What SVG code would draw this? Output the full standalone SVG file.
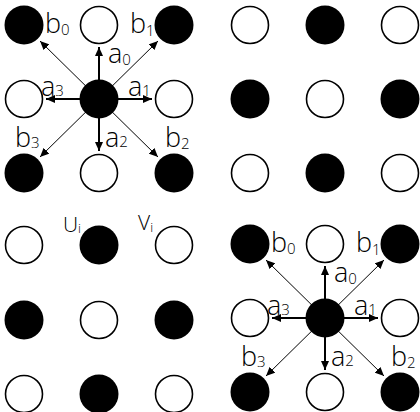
<svg xmlns="http://www.w3.org/2000/svg" width="420" height="412" viewBox="0 0 420 412">
<style>
  .w{fill:#fff;stroke:#000;stroke-width:1.6}
  .k{fill:#000}
  .ax{stroke:#000;stroke-width:2;fill:none}
  .dg{stroke:#000;stroke-width:1;fill:none}
  .lb{font-family:"Open Sans","DejaVu Sans",sans-serif;font-weight:300;font-size:27px;fill:#000}
  .sb{font-size:15px}
  .uv{font-family:"Open Sans","DejaVu Sans",sans-serif;font-weight:300;font-size:21px;fill:#000}
  .si{font-size:13px}
</style>
<defs>
  <marker id="ah" markerUnits="userSpaceOnUse" markerWidth="10" markerHeight="8" refX="9" refY="4" orient="auto">
    <path d="M0,0 L9,4 L0,8 z" fill="#000"/>
  </marker>
</defs>
<rect width="420" height="412" fill="#fff"/>

<g id="connectors">
  <g id="tl-arrows">
    <line class="ax" x1="99" y1="99" x2="99" y2="47" marker-end="url(#ah)"/>
    <line class="ax" x1="99" y1="99" x2="152" y2="99" marker-end="url(#ah)"/>
    <line class="ax" x1="99" y1="99" x2="99" y2="151" marker-end="url(#ah)"/>
    <line class="ax" x1="99" y1="99" x2="46" y2="99" marker-end="url(#ah)"/>
    <line class="dg" x1="99" y1="99" x2="40" y2="41" marker-end="url(#ah)"/>
    <line class="dg" x1="99" y1="99" x2="158" y2="41" marker-end="url(#ah)"/>
    <line class="dg" x1="99" y1="99" x2="158" y2="157" marker-end="url(#ah)"/>
    <line class="dg" x1="99" y1="99" x2="40" y2="157" marker-end="url(#ah)"/>
  </g>
  <g id="br-arrows">
    <line class="ax" x1="325" y1="318" x2="325" y2="266" marker-end="url(#ah)"/>
    <line class="ax" x1="325" y1="318" x2="378" y2="318" marker-end="url(#ah)"/>
    <line class="ax" x1="325" y1="318" x2="325" y2="370" marker-end="url(#ah)"/>
    <line class="ax" x1="325" y1="318" x2="272" y2="318" marker-end="url(#ah)"/>
    <line class="dg" x1="325" y1="318" x2="266" y2="260" marker-end="url(#ah)"/>
    <line class="dg" x1="325" y1="318" x2="384" y2="260" marker-end="url(#ah)"/>
    <line class="dg" x1="325" y1="318" x2="384" y2="376" marker-end="url(#ah)"/>
    <line class="dg" x1="325" y1="318" x2="266" y2="376" marker-end="url(#ah)"/>
  </g>
</g>

<!-- Top-left quadrant -->
<g id="tl-n00"><circle class="k" cx="24" cy="25" r="19.5"/></g>
<g id="tl-n01"><circle class="w" cx="99" cy="25" r="18.5"/></g>
<g id="tl-n02"><circle class="k" cx="174" cy="25" r="19.5"/></g>
<g id="tl-n10"><circle class="w" cx="24" cy="99" r="18.5"/></g>
<g id="tl-n11"><circle class="k" cx="99" cy="99" r="19.5"/></g>
<g id="tl-n12"><circle class="w" cx="174" cy="99" r="18.5"/></g>
<g id="tl-n20"><circle class="k" cx="24" cy="173" r="19.5"/></g>
<g id="tl-n21"><circle class="w" cx="99" cy="173" r="18.5"/></g>
<g id="tl-n22"><circle class="k" cx="174" cy="173" r="19.5"/></g>

<!-- Top-right quadrant -->
<g id="tr-n00"><circle class="w" cx="250" cy="25" r="18.5"/></g>
<g id="tr-n01"><circle class="k" cx="325" cy="25" r="19.5"/></g>
<g id="tr-n02"><circle class="w" cx="400" cy="25" r="18.5"/></g>
<g id="tr-n10"><circle class="k" cx="250" cy="99" r="19.5"/></g>
<g id="tr-n11"><circle class="w" cx="325" cy="99" r="18.5"/></g>
<g id="tr-n12"><circle class="k" cx="400" cy="99" r="19.5"/></g>
<g id="tr-n20"><circle class="w" cx="250" cy="173" r="18.5"/></g>
<g id="tr-n21"><circle class="k" cx="325" cy="173" r="19.5"/></g>
<g id="tr-n22"><circle class="w" cx="400" cy="173" r="18.5"/></g>

<!-- Bottom-left quadrant -->
<g id="bl-n00"><circle class="w" cx="24" cy="245" r="18.5"/></g>
<g id="bl-n01"><circle class="k" cx="99" cy="245" r="19.5"/></g>
<g id="bl-n02"><circle class="w" cx="174" cy="245" r="18.5"/></g>
<g id="bl-n10"><circle class="k" cx="24" cy="320" r="19.5"/></g>
<g id="bl-n11"><circle class="w" cx="99" cy="320" r="18.5"/></g>
<g id="bl-n12"><circle class="k" cx="174" cy="320" r="19.5"/></g>
<g id="bl-n20"><circle class="w" cx="24" cy="394" r="18.5"/></g>
<g id="bl-n21"><circle class="k" cx="99" cy="394" r="19.5"/></g>
<g id="bl-n22"><circle class="w" cx="174" cy="394" r="18.5"/></g>

<!-- Bottom-right quadrant -->
<g id="br-n00"><circle class="k" cx="250" cy="244" r="19.5"/></g>
<g id="br-n01"><circle class="w" cx="325" cy="244" r="18.5"/></g>
<g id="br-n02"><circle class="k" cx="400" cy="244" r="19.5"/></g>
<g id="br-n10"><circle class="w" cx="250" cy="318" r="18.5"/></g>
<g id="br-n11"><circle class="k" cx="325" cy="318" r="19.5"/></g>
<g id="br-n12"><circle class="w" cx="400" cy="318" r="18.5"/></g>
<g id="br-n20"><circle class="k" cx="250" cy="392" r="19.5"/></g>
<g id="br-n21"><circle class="w" cx="325" cy="392" r="18.5"/></g>
<g id="br-n22"><circle class="k" cx="400" cy="392" r="19.5"/></g>

<g id="tl-labels">
  <text class="lb" x="45" y="33">b<tspan class="sb" dy="2">0</tspan></text>
  <text class="lb" x="130" y="33">b<tspan class="sb" dy="3">1</tspan></text>
  <text class="lb" x="108" y="63">a<tspan class="sb" dy="2">0</tspan></text>
  <text class="lb" x="128" y="96">a<tspan class="sb" dy="0">1</tspan></text>
  <text class="lb" x="41" y="96">a<tspan class="sb" dy="0">3</tspan></text>
  <text class="lb" x="15" y="147">b<tspan class="sb" dy="1">3</tspan></text>
  <text class="lb" x="105" y="147">a<tspan class="sb" dy="0">2</tspan></text>
  <text class="lb" x="165" y="147">b<tspan class="sb" dy="2">2</tspan></text>
</g>
<g id="br-labels">
  <text class="lb" x="271" y="252">b<tspan class="sb" dy="2">0</tspan></text>
  <text class="lb" x="356" y="252">b<tspan class="sb" dy="3">1</tspan></text>
  <text class="lb" x="334" y="282">a<tspan class="sb" dy="2">0</tspan></text>
  <text class="lb" x="354" y="315">a<tspan class="sb" dy="0">1</tspan></text>
  <text class="lb" x="267" y="315">a<tspan class="sb" dy="0">3</tspan></text>
  <text class="lb" x="241" y="366">b<tspan class="sb" dy="1">3</tspan></text>
  <text class="lb" x="331" y="366">a<tspan class="sb" dy="0">2</tspan></text>
  <text class="lb" x="391" y="366">b<tspan class="sb" dy="2">2</tspan></text>
</g>
<g id="uv-labels">
  <text class="uv" x="63" y="232">U<tspan class="si" dy="1">i</tspan></text>
  <text class="uv" x="138" y="230">V<tspan class="si" dy="2">i</tspan></text>
</g>
</svg>
